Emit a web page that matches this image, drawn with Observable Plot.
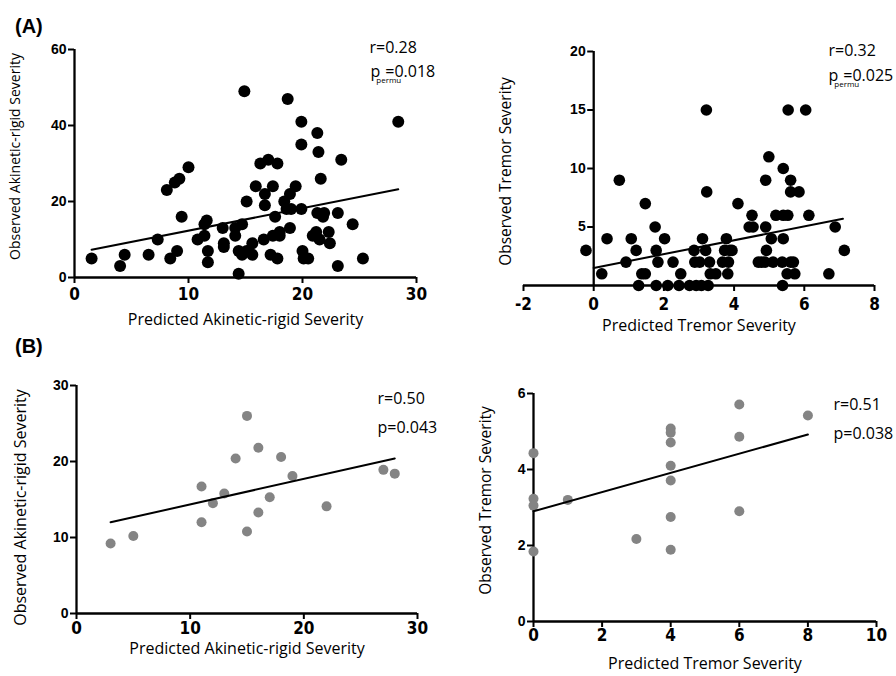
<!DOCTYPE html>
<html>
<head>
<meta charset="utf-8">
<script src="https://cdn.jsdelivr.net/npm/d3@7"></script>
<script src="https://cdn.jsdelivr.net/npm/@observablehq/plot@0.6"></script>
<style>
  body { margin: 0; background: #fff; color: #000; }
  #root { position: relative; width: 896px; height: 676px; overflow: hidden; }
  .panel { position: absolute; }
  .panel svg { overflow: visible; }
  .tag { position: absolute; font: bold 20px "Liberation Sans", Arial, sans-serif; line-height: 1; }
  g[aria-label="x-axis tick label"] text {
    font-family: 'Liberation Sans Narrow','Arial Narrow','DejaVu Sans Condensed',sans-serif;
    font-weight: bold; font-size: 17px;
  }
  g[aria-label="y-axis tick label"] text {
    font-family: 'Liberation Sans',Arial,sans-serif;
    font-weight: bold; font-size: 14px;
  }
</style>
</head>
<body>
<div id="root">
  <div class="tag" style="left:15px;top:16px;">(A)</div>
  <div class="tag" style="left:15px;top:336px;">(B)</div>
</div>
<script>
// ---------- data ----------
// (A) akinetic-rigid, training set
const akPredA = [1.5,4.0,4.4,6.5,7.3,8.1,8.4,8.8,9.2,9.0,9.4,10.0,10.8,11.4,11.4,11.6,11.7,11.7,13.0,13.1,13.1,14.1,14.1,14.4,14.4,14.7,14.7,14.9,15.1,15.1,15.6,15.6,15.9,16.3,16.6,16.7,16.7,17.0,17.2,17.4,17.4,17.6,17.8,17.8,18.0,18.0,18.4,18.7,18.9,18.9,18.6,19.0,19.4,19.9,19.9,19.9,20.0,20.1,20.5,20.9,21.2,21.3,21.4,21.5,21.3,21.6,21.8,21.9,22.3,22.4,23.1,23.1,23.4,24.4,25.3,28.4];
const akObsA  = [5,3,6,6,10,23,5,25,26,7,16,29,10,11,14,15,7,4,13,9,8,13,11,1,7,6,14,49,20,7,9,6,24,30,10,22,19,31,6,24,11,16,5,30,12,11,20,47,22,13,18,18,24,18,41,35,7,5,5,11,12,38,33,10,17,26,16,17,12,9,17,3,31,14,5,41];
const akFitAX = [1.5, 28.4];
const akFitAY = [7.3, 23.2];

// (A) tremor, training set
const trPredA = [-0.22,0.23,0.38,0.73,0.92,1.07,1.21,1.28,1.37,1.47,1.47,1.75,1.78,1.83,1.78,2.02,2.11,2.26,2.43,2.48,2.73,2.86,2.88,2.92,3.02,3.07,3.1,3.19,3.21,3.22,3.26,3.30,3.32,3.48,3.67,3.73,3.78,3.82,3.84,3.88,3.94,4.11,4.43,4.51,4.54,4.69,4.78,4.88,4.9,4.9,4.92,4.99,5.06,5.11,5.19,5.37,5.38,5.4,5.4,5.4,5.54,5.53,5.61,5.61,5.61,5.69,5.73,5.85,5.51,6.04,6.13,6.70,6.88,7.14];
const trObsA  = [3,1,4,9,2,4,3,0,1,1,7,5,3,2,0,4,0,2,0,1,0,3,2,0,2,0,4,3,15,8,0,2,1,1,2,3,4,1,2,3,3,7,5,6,5,2,2,2,9,5,3,11,4,2,6,2,0,10,4,6,15,6,9,8,2,2,1,8,1,15,6,1,5,3];
const trFitAX = [0, 7.1];
const trFitAY = [1.5, 5.7];

// (B) akinetic-rigid, validation set
const akPredB = [3,5,11,11,12,13,14,15,15,16,16,17,18,19,22,27,28];
const akObsB  = [9.2,10.2,16.7,12.0,14.5,15.8,20.4,26.0,10.8,21.8,13.3,15.3,20.6,18.1,14.1,18.9,18.4];
const akFitBX = [3, 28];
const akFitBY = [12.0, 20.4];

// (B) tremor, validation set
const trPredB = [0,0,0,0,1,3,4,4,4,4,4,4,4,6,6,6,8];
const trObsB  = [4.43,3.23,3.05,1.84,3.2,2.17,5.08,4.97,4.71,4.10,3.71,2.75,1.89,5.71,4.86,2.90,5.42];
const trFitBX = [0, 8];
const trFitBY = [2.9, 4.92];

// tick values
const akTicksXA = [0,10,20,30],  akTicksYA = [0,20,40,60];
const trTicksXA = [-2,0,2,4,6,8], trTicksYA = [5,10,15,20];
const akTicksXB = [0,10,20,30],  akTicksYB = [0,10,20,30];
const trTicksXB = [0,2,4,6,8,10], trTicksYB = [0,2,4,6];

// text
const akXTitle = "Predicted Akinetic-rigid Severity";
const akYTitle = "Observed Akinetic-rigid Severity";
const trXTitle = "Predicted Tremor Severity";
const trYTitle = "Observed Tremor Severity";

// ---------- drawing ----------
const HUM = "'Open Sans','Noto Sans',sans-serif";

function makePanel(c) {
  const pts = c.xs.map((x, i) => ({x, y: c.ys[i]}));
  const fit = c.fitX.map((x, i) => ({x, y: c.fitY[i]}));
  const noteMarks = c.notes.map(n =>
    Plot.text([n.t], {frameAnchor: "top-left", textAnchor: "start", dx: n.dx, dy: n.dy,
      fontSize: n.size, fontFamily: HUM, fill: "black"}));
  const plot = Plot.plot({
    width: c.width, height: c.height,
    marginLeft: c.m[0], marginRight: c.m[1], marginTop: c.m[2], marginBottom: c.m[3],
    x: {domain: c.xDomain, label: null},
    y: {domain: c.yDomain, label: null},
    style: {background: "transparent", color: "black", overflow: "visible"},
    marks: [
      Plot.ruleY([0], {stroke: "black", strokeWidth: 2.3}),
      Plot.ruleX([0], {stroke: "black", strokeWidth: 2.3}),
      Plot.axisX({ticks: c.xTicks, tickSize: 6, tickPadding: c.xPad, strokeWidth: 2,
        tickFormat: d => String(d), fontSize: 17, label: null, stroke: "black", fill: "black"}),
      Plot.axisY({x: 0, ticks: c.yTicks, tickSize: 6, tickPadding: 2, strokeWidth: 2,
        tickFormat: d => String(d), fontSize: 14, label: null, stroke: "black", fill: "black"}),
      Plot.dot(pts, {x: "x", y: "y", r: c.r, fill: c.fill, stroke: null}),
      Plot.line(fit, {x: "x", y: "y", stroke: "black", strokeWidth: 2}),
      Plot.text([c.xTitle], {frameAnchor: "bottom", dy: c.xTitleDy, fontFamily: HUM,
        fontSize: c.xTitleSize, fill: "black"}),
      Plot.text([c.yTitle], {x: c.xDomain[0], y: (c.yDomain[0] + c.yDomain[1]) / 2,
        rotate: -90, dx: c.yTitleDx, dy: c.yTitleDy, textAnchor: "middle",
        fontFamily: HUM, fontSize: c.yTitleSize, fill: "black"}),
      ...noteMarks
    ]
  });
  // p with a "permu" subscript: split the rendered note into tspans
  c.notes.filter(n => n.sub).forEach(n => {
    d3.select(plot).selectAll("text").filter(function () { return this.textContent === n.t; })
      .each(function () {
        const t = d3.select(this);
        t.text("p");
        t.append("tspan").attr("dx", -4).attr("dy", 6).attr("font-size", 8).text(n.sub);
        t.append("tspan").attr("dx", -16).attr("dy", -6).text(n.rest);
      });
  });
  const div = document.createElement("div");
  div.className = "panel";
  div.style.left = c.left + "px";
  div.style.top = c.top + "px";
  div.appendChild(plot);
  document.getElementById("root").appendChild(div);
}

makePanel({
  left: 0, top: 0, width: 448, height: 340, m: [74, 32, 49, 63],
  xs: akPredA, ys: akObsA, fitX: akFitAX, fitY: akFitAY,
  xDomain: [0, 30], yDomain: [0, 60], xTicks: akTicksXA, yTicks: akTicksYA, xPad: 4,
  r: 6, fill: "black",
  xTitle: akXTitle, xTitleDy: 47, xTitleSize: 16,
  yTitle: akYTitle, yTitleDx: -59, yTitleDy: -7, yTitleSize: 14,
  notes: [
    {t: "r=0.28", dx: 295, dy: -8, size: 16},
    {t: "p =0.018", sub: "permu", rest: "=0.018", dx: 296, dy: 16, size: 16}
  ]
});

makePanel({
  left: 448, top: 0, width: 448, height: 340, m: [75, 22, 51, 55],
  xs: trPredA, ys: trObsA, fitX: trFitAX, fitY: trFitAY,
  xDomain: [-2, 8], yDomain: [0, 20], xTicks: trTicksXA, yTicks: trTicksYA, xPad: 6,
  r: 5.8, fill: "black",
  xTitle: trXTitle, xTitleDy: 45, xTitleSize: 16,
  yTitle: trYTitle, yTitleDx: -17, yTitleDy: 3, yTitleSize: 15.5,
  notes: [
    {t: "r=0.32", dx: 305, dy: -7, size: 16},
    {t: "p =0.025", sub: "permu", rest: "=0.025", dx: 305, dy: 18, size: 16}
  ]
});

makePanel({
  left: 0, top: 340, width: 448, height: 336, m: [76, 31, 45, 63],
  xs: akPredB, ys: akObsB, fitX: akFitBX, fitY: akFitBY,
  xDomain: [0, 30], yDomain: [0, 30], xTicks: akTicksXB, yTicks: akTicksYB, xPad: 2,
  r: 5, fill: "#848484",
  xTitle: akXTitle, xTitleDy: 40, xTitleSize: 16,
  yTitle: akYTitle, yTitleDx: -56, yTitleDy: 8, yTitleSize: 16,
  notes: [
    {t: "r=0.50", dx: 301, dy: 7, size: 16},
    {t: "p=0.043", dx: 301, dy: 36, size: 16}
  ]
});

makePanel({
  left: 448, top: 340, width: 448, height: 336, m: [85, 20, 53, 55],
  xs: trPredB, ys: trObsB, fitX: trFitBX, fitY: trFitBY,
  xDomain: [0, 10], yDomain: [0, 6], xTicks: trTicksXB, yTicks: trTicksYB, xPad: 1,
  r: 5, fill: "#848484",
  xTitle: trXTitle, xTitleDy: 47, xTitleSize: 16,
  yTitle: trYTitle, yTitleDx: -47, yTitleDy: -7, yTitleSize: 15.5,
  notes: [
    {t: "r=0.51", dx: 300, dy: 5, size: 16},
    {t: "p=0.038", dx: 300, dy: 34, size: 16}
  ]
});
</script>
</body>
</html>
